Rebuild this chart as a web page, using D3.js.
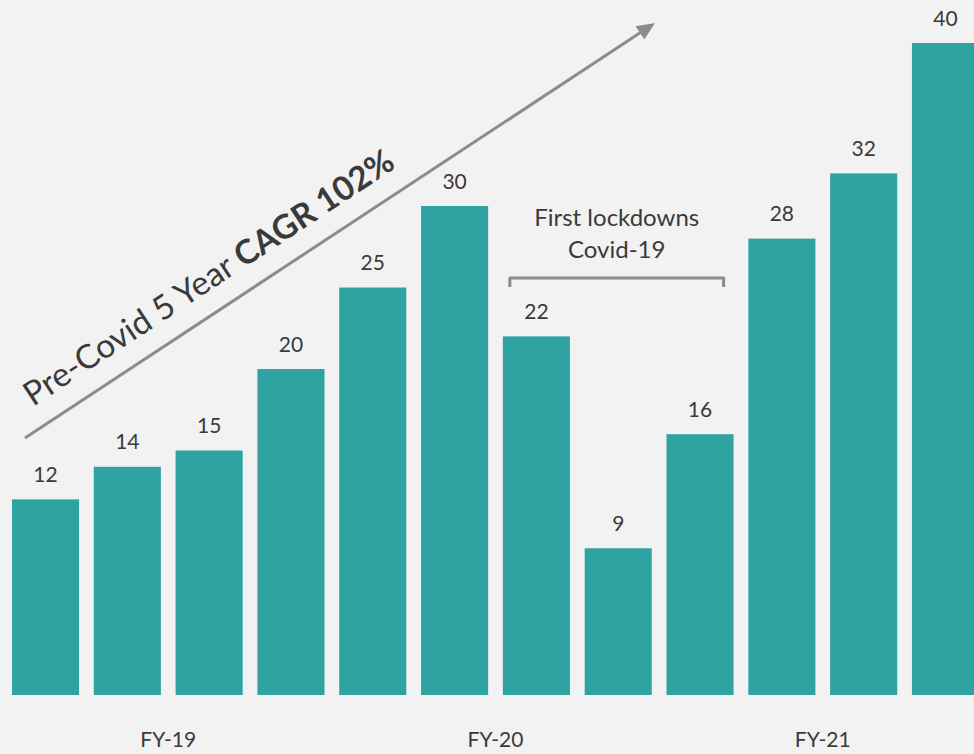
<!DOCTYPE html>
<html>
<head>
<meta charset="utf-8">
<script src="https://cdn.jsdelivr.net/npm/d3@7"></script>
<style>
  html, body { margin: 0; padding: 0; background: #f2f2f2; }
  svg { display: block; }
  text { font-family: Lato, "Open Sans", "Noto Sans", sans-serif; fill: #3a3a3a; }
</style>
</head>
<body>
<svg id="chart" width="974" height="754"></svg>
<script>
// Quarterly values, grouped by fiscal year
const categories = [
  "FY-19 Q1", "FY-19 Q2", "FY-19 Q3", "FY-19 Q4",
  "FY-20 Q1", "FY-20 Q2", "FY-20 Q3", "FY-20 Q4",
  "FY-21 Q1", "FY-21 Q2", "FY-21 Q3", "FY-21 Q4"
];
const values = [12, 14, 15, 20, 25, 30, 22, 9, 16, 28, 32, 40];
const fiscalYears = ["FY-19", "FY-20", "FY-21"];
const quartersPerYear = 4;
const lockdownQuarters = ["FY-20 Q3", "FY-21 Q1"];
const trendLabel = ["Pre-Covid 5 Year ", "CAGR 102%"];
const lockdownLabel = ["First lockdowns", "Covid-19"];

const data = categories.map((c, i) => ({ category: c, value: values[i] }));

const svg = d3.select("#chart");
const W = 974, H = 754;
const teal = "#2ea3a2";
const grey = "#8c8c8c";

svg.append("rect").attr("width", W).attr("height", H).attr("fill", "#f2f2f2");

const x = d3.scaleBand()
  .domain(categories)
  .range([4.6, 986.4])
  .paddingInner(0.18)
  .paddingOuter(0.09);

const y = d3.scaleLinear().domain([0, 40]).range([695, 43]);

// Bars
svg.append("g").selectAll("rect")
  .data(data)
  .join("rect")
  .attr("x", d => x(d.category))
  .attr("y", d => y(d.value))
  .attr("width", x.bandwidth())
  .attr("height", d => y(0) - y(d.value))
  .attr("fill", teal);

// Value labels
svg.append("g").selectAll("text")
  .data(data)
  .join("text")
  .attr("x", d => x(d.category) + x.bandwidth() / 2)
  .attr("y", d => y(d.value) - 17.5)
  .attr("text-anchor", "middle")
  .attr("font-size", 21)
  .text(d => d.value);

// Fiscal year labels centred under each group of quarters
svg.append("g").selectAll("text")
  .data(fiscalYears)
  .join("text")
  .attr("x", (fy, i) => {
    const first = categories[i * quartersPerYear];
    const last = categories[i * quartersPerYear + quartersPerYear - 1];
    return (x(first) + x(last) + x.bandwidth()) / 2;
  })
  .attr("y", 747)
  .attr("text-anchor", "middle")
  .attr("font-size", 21)
  .text(d => d);

// Lockdown bracket and caption
const bx0 = x(lockdownQuarters[0]) + 7;
const bx1 = x(lockdownQuarters[1]) + x.bandwidth() - 10;
const by = 278;
svg.append("path")
  .attr("d", `M${bx0},${by + 9} L${bx0},${by} L${bx1},${by} L${bx1},${by + 9}`)
  .attr("fill", "none")
  .attr("stroke", grey)
  .attr("stroke-width", 3)
  .attr("stroke-linejoin", "round");

const cx = (bx0 + bx1) / 2;
svg.append("text")
  .attr("x", cx).attr("y", 226)
  .attr("text-anchor", "middle").attr("font-size", 24)
  .text(lockdownLabel[0]);
svg.append("text")
  .attr("x", cx).attr("y", 258)
  .attr("text-anchor", "middle").attr("font-size", 24)
  .text(lockdownLabel[1]);

// Growth trend arrow
const a0 = [25, 438], a1 = [655, 23];
const ang = Math.atan2(a1[1] - a0[1], a1[0] - a0[0]);
const headLen = 18, headHalf = 8;
const base = [a1[0] - headLen * Math.cos(ang), a1[1] - headLen * Math.sin(ang)];
svg.append("line")
  .attr("x1", a0[0]).attr("y1", a0[1])
  .attr("x2", base[0] + 2 * Math.cos(ang)).attr("y2", base[1] + 2 * Math.sin(ang))
  .attr("stroke", grey).attr("stroke-width", 3);
const nx = -Math.sin(ang), ny = Math.cos(ang);
svg.append("path")
  .attr("d", `M${a1[0]},${a1[1]} L${base[0] + nx * headHalf},${base[1] + ny * headHalf} L${base[0] - nx * headHalf},${base[1] - ny * headHalf} Z`)
  .attr("fill", grey);

// Rotated trend caption, sized to run along the arrow
const deg = ang * 180 / Math.PI;
const start = [33, 407];
const cap = svg.append("text")
  .attr("transform", `translate(${start[0]},${start[1]}) rotate(${deg})`)
  .attr("font-size", 32);
cap.append("tspan").text(trendLabel[0]);
cap.append("tspan").attr("font-weight", "bold").text(trendLabel[1]);
const targetLen = 436;
const len = cap.node().getComputedTextLength();
cap.attr("font-size", 32 * targetLen / len);
</script>
</body>
</html>
